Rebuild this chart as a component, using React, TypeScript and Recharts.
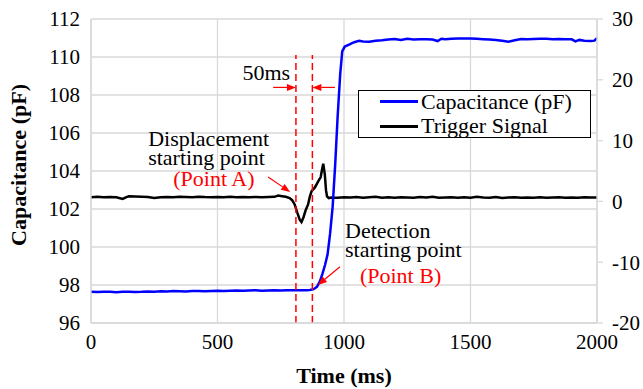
import React from 'react';
import {
  ComposedChart,
  Line,
  XAxis,
  YAxis,
  CartesianGrid,
  ReferenceLine,
  ReferenceDot,
  Legend,
  Label,
} from 'recharts';

const FONT = '"Liberation Serif", "Times New Roman", Times, serif';

// ---- data ----
const xTicks = [0, 500, 1000, 1500, 2000];
const leftTicks = [96, 98, 100, 102, 104, 106, 108, 110, 112];
const rightTicks = [-20, -10, 0, 10, 20, 30];

const seriesNames = ['Capacitance (pF)', 'Trigger Signal'];
const seriesColors = ['#0000ff', '#000000'];

const capTime = [
  0, 25, 50, 75, 100, 125, 150, 175, 200, 225,
  250, 275, 300, 325, 350, 375, 400, 425, 450, 475,
  500, 525, 550, 575, 600, 625, 650, 675, 700, 725,
  750, 775, 800, 825, 850, 865, 880, 893, 905, 915,
  925, 935, 945, 955, 965, 975, 985, 993, 1003, 1020,
  1040, 1060, 1075, 1100, 1125, 1150, 1175, 1200, 1225, 1250,
  1275, 1300, 1325, 1350, 1370, 1385, 1400, 1425, 1450, 1475,
  1500, 1525, 1550, 1575, 1600, 1625, 1650, 1675, 1700, 1725,
  1750, 1775, 1800, 1825, 1850, 1875, 1900, 1915, 1930, 1950,
  1975, 1990, 2000,
];
const capValue = [
  97.64, 97.63, 97.65, 97.64, 97.62, 97.64, 97.65, 97.63, 97.64, 97.66,
  97.65, 97.67, 97.66, 97.68, 97.67, 97.66, 97.68, 97.69, 97.67, 97.69,
  97.70, 97.69, 97.70, 97.71, 97.70, 97.71, 97.72, 97.70, 97.71, 97.72,
  97.71, 97.72, 97.72, 97.73, 97.72, 97.74, 97.78, 97.90, 98.20, 98.60,
  99.05, 99.60, 100.70, 102.10, 104.30, 106.90, 109.10, 110.30, 110.55, 110.65,
  110.78, 110.85, 110.82, 110.80, 110.86, 110.88, 110.92, 110.95, 110.90, 110.96,
  110.92, 110.93, 110.94, 110.92, 110.84, 110.96, 110.94, 110.96, 110.97, 110.98,
  110.98, 110.96, 110.94, 110.92, 110.90, 110.85, 110.80, 110.88, 110.95, 110.94,
  110.95, 110.96, 110.96, 110.94, 110.95, 110.93, 110.93, 110.82, 110.90, 110.85,
  110.84, 110.86, 111.00,
];

const trigTime = [
  0, 25, 50, 75, 100, 125, 140, 150, 175, 200,
  225, 250, 275, 300, 325, 350, 375, 400, 425, 450,
  475, 500, 525, 550, 575, 600, 625, 650, 675, 700,
  725, 740, 755, 770, 785, 795, 805, 815, 825, 832,
  840, 848, 858, 865, 872, 885, 898, 908, 913, 918,
  924, 929, 933, 940, 950, 960, 975, 1000, 1025, 1050,
  1075, 1100, 1125, 1150, 1175, 1200, 1225, 1250, 1275, 1300,
  1325, 1350, 1375, 1400, 1425, 1450, 1475, 1500, 1525, 1550,
  1575, 1600, 1625, 1650, 1675, 1700, 1725, 1750, 1775, 1800,
  1825, 1850, 1875, 1900, 1925, 1950, 1975, 2000,
];
const trigValue = [
  0.70, 0.75, 0.70, 0.72, 0.68, 0.40, 0.70, 0.85, 0.80, 0.75,
  0.72, 0.55, 0.70, 0.72, 0.70, 0.75, 0.72, 0.70, 0.78, 0.72,
  0.70, 0.72, 0.68, 0.75, 0.70, 0.72, 0.70, 0.74, 0.70, 0.72,
  0.75, 0.95, 0.85, 0.75, 0.55, 0.20, -0.50, -1.80, -3.00, -3.40,
  -2.60, -1.50, -0.50, 0.80, 1.70, 2.30, 3.30, 4.00, 5.20, 6.20,
  4.50, 1.80, 0.80, 0.55, 0.65, 0.60, 0.62, 0.70, 0.65, 0.72,
  0.60, 0.70, 0.78, 0.62, 0.68, 0.60, 0.70, 0.66, 0.60, 0.72,
  0.65, 0.78, 0.60, 0.64, 0.68, 0.60, 0.70, 0.62, 0.75, 0.65,
  0.60, 0.72, 0.58, 0.66, 0.70, 0.60, 0.65, 0.62, 0.68, 0.60,
  0.64, 0.70, 0.60, 0.66, 0.62, 0.70, 0.64, 0.65,
];

// markers (time in ms)
const markerTimes = [810, 875];
const markerTop = 110.1;
const markerBottom = 96;

// annotation texts: [time, pF, text, colour, anchor]
const noteTexts: [number, number, string, string, 'start' | 'end' | 'middle'][] = [
  [787, 108.79, '50ms', '#000000', 'end'],
  [226, 105.32, 'Displacement', '#000000', 'start'],
  [226, 104.32, 'starting point', '#000000', 'start'],
  [325, 103.21, '(Point A)', '#ff0000', 'start'],
  [1004, 100.47, 'Detection', '#000000', 'start'],
  [1004, 99.47, 'starting point', '#000000', 'start'],
  [1063, 98.1, '(Point B)', '#ff0000', 'start'],
];

// annotation arrows: [fromT, fromV, toT, toV]
const noteArrows: [number, number, number, number][] = [
  [720, 108.4, 810, 108.4],
  [964, 108.4, 875, 108.4],
  [700, 103.68, 787, 102.9],
  [984, 98.96, 897, 98.0],
];

const capData = capTime.map((t, i) => ({ t, v: capValue[i] }));
const trigData = trigTime.map((t, i) => ({ t, v: trigValue[i] }));

const ArrowShape = (props: any) => {
  const { x1, y1, x2, y2 } = props;
  if ([x1, y1, x2, y2].some((n) => typeof n !== 'number' || isNaN(n))) return null;
  const ang = Math.atan2(y2 - y1, x2 - x1);
  const L = 9;
  const W = 3.5;
  const bx = x2 - L * Math.cos(ang);
  const by = y2 - L * Math.sin(ang);
  const p1x = bx + W * Math.sin(ang);
  const p1y = by - W * Math.cos(ang);
  const p2x = bx - W * Math.sin(ang);
  const p2y = by + W * Math.cos(ang);
  return (
    <g>
      <line x1={x1} y1={y1} x2={bx} y2={by} stroke="#ff0000" strokeWidth={1.2} />
      <polygon points={`${x2},${y2} ${p1x},${p1y} ${p2x},${p2y}`} fill="#ff0000" />
    </g>
  );
};

const makeNote = (text: string, color: string, anchor: string) => (props: any) => (
  <text
    x={props.cx}
    y={props.cy}
    fill={color}
    fontSize={22}
    fontFamily={FONT}
    textAnchor={anchor}
  >
    {text}
  </text>
);

const YTitle = (props: any) => {
  const vb = props.viewBox || { x: 0, y: 19, width: 91, height: 304 };
  const x = vb.x + 26;
  const y = vb.y + vb.height / 2 - 6;
  return (
    <text
      x={x}
      y={y}
      transform={`rotate(-90, ${x}, ${y})`}
      textAnchor="middle"
      fontFamily={FONT}
      fontWeight="bold"
      fontSize={22}
      fill="#000"
    >
      Capacitance (pF)
    </text>
  );
};

const LegendBox = () => (
  <div
    style={{
      position: 'relative',
      width: 233,
      height: 48,
      boxSizing: 'border-box',
      border: '1.5px solid #000',
      background: '#fff',
      fontFamily: FONT,
      fontSize: 22,
      color: '#000',
    }}
  >
    {seriesNames.map((name, i) => (
      <div
        key={name}
        style={{
          position: 'absolute',
          left: 0,
          top: i === 0 ? -0.5 : 24,
          height: 22,
          display: 'flex',
          alignItems: 'center',
          whiteSpace: 'nowrap',
        }}
      >
        <div style={{ marginLeft: 20.5, width: 38, height: 3, background: seriesColors[i] }} />
        <span style={{ marginLeft: 3.5, lineHeight: '22px' }}>{name}</span>
      </div>
    ))}
  </div>
);

const tickStyle = { fill: '#000', fontSize: 21, fontFamily: FONT };

export default function App() {
  return (
    <div style={{ position: 'absolute', left: 0, top: 0, width: 643, height: 389, background: '#fff', fontFamily: FONT }}>
      <ComposedChart width={643} height={389} margin={{ top: 19, right: 0, bottom: 0, left: 0 }}>
        <CartesianGrid yAxisId="left" stroke="#d9d9d9" strokeWidth={1.3} />
        <XAxis
          type="number"
          dataKey="t"
          domain={[0, 2000]}
          ticks={xTicks}
          allowDataOverflow
          height={66}
          tickSize={0}
          tickMargin={11}
          axisLine={{ stroke: '#d9d9d9', strokeWidth: 1.3 }}
          tick={tickStyle}
        >
          <Label
            value="Time (ms)"
            position="insideBottom"
            offset={6}
            style={{ fontWeight: 'bold', fontSize: 22, fontFamily: FONT, fill: '#000' }}
          />
        </XAxis>
        <YAxis
          yAxisId="left"
          type="number"
          domain={[96, 112]}
          ticks={leftTicks}
          allowDataOverflow
          width={91}
          tickSize={0}
          tickMargin={11}
          axisLine={{ stroke: '#d9d9d9', strokeWidth: 1.3 }}
          tick={tickStyle}
        >
          <Label content={YTitle} />
        </YAxis>
        <YAxis
          yAxisId="right"
          orientation="right"
          type="number"
          domain={[-20, 30]}
          ticks={rightTicks}
          allowDataOverflow
          width={46}
          tickSize={6}
          tickMargin={9}
          axisLine={{ stroke: '#d9d9d9', strokeWidth: 1.3 }}
          tickLine={{ stroke: '#d9d9d9', strokeWidth: 1.3 }}
          tick={{ ...tickStyle, textAnchor: 'start' }}
        />
        <Line
          yAxisId="right"
          data={trigData}
          dataKey="v"
          name={seriesNames[1]}
          type="linear"
          stroke={seriesColors[1]}
          strokeWidth={2.5}
          dot={false}
          activeDot={false}
          isAnimationActive={false}
        />
        <Line
          yAxisId="left"
          data={capData}
          dataKey="v"
          name={seriesNames[0]}
          type="linear"
          stroke={seriesColors[0]}
          strokeWidth={2.5}
          dot={false}
          activeDot={false}
          isAnimationActive={false}
        />
        {markerTimes.map((t) => (
          <ReferenceLine
            key={`m${t}`}
            yAxisId="left"
            segment={[
              { x: t, y: markerBottom },
              { x: t, y: markerTop },
            ]}
            stroke="#ff0000"
            strokeWidth={1.5}
            strokeDasharray="7 4"
          />
        ))}
        {noteArrows.map((a, i) => (
          <ReferenceLine
            key={`a${i}`}
            yAxisId="left"
            segment={[
              { x: a[0], y: a[1] },
              { x: a[2], y: a[3] },
            ]}
            shape={ArrowShape}
          />
        ))}
        {noteTexts.map((n, i) => (
          <ReferenceDot
            key={`n${i}`}
            yAxisId="left"
            x={n[0]}
            y={n[1]}
            r={0}
            shape={makeNote(n[2], n[3], n[4])}
          />
        ))}
        <Legend
          layout="vertical"
          align="center"
          verticalAlign="middle"
          wrapperStyle={{ position: 'absolute', left: 358, top: 90, width: 233, height: 48 }}
          content={() => <LegendBox />}
        />
      </ComposedChart>
    </div>
  );
}
